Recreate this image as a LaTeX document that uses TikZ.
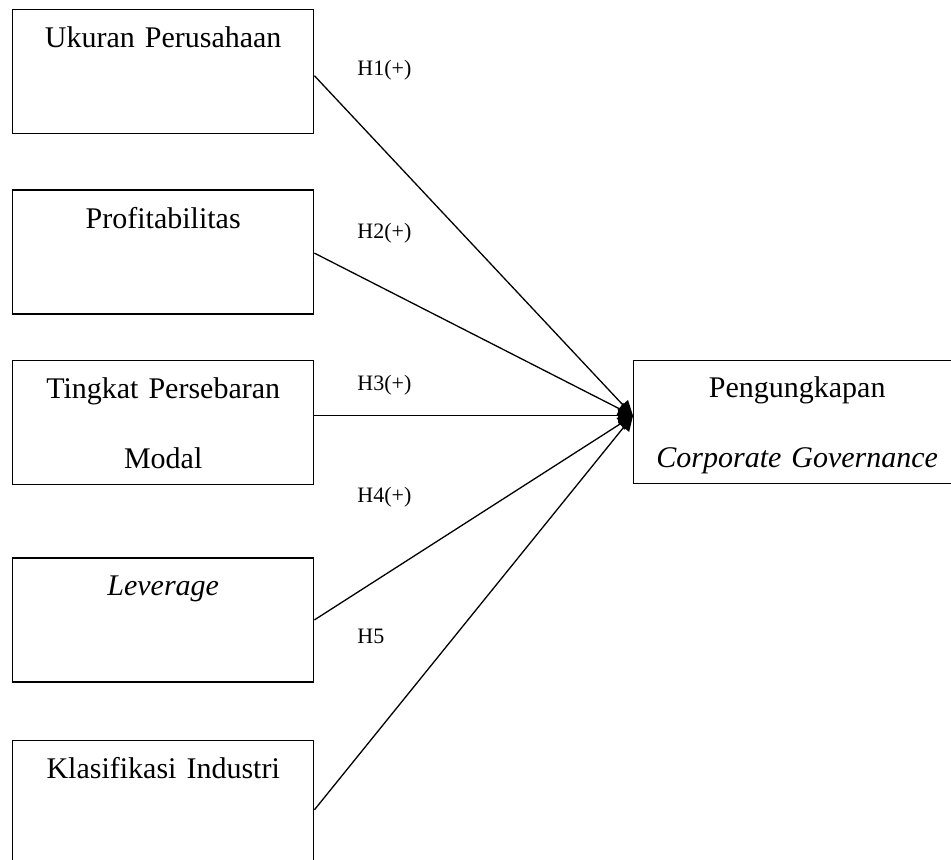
\documentclass[tikz,border=0pt]{standalone}
\usepackage{fontspec}
\setmainfont{Liberation Serif}
\usepackage{tikz}
\usetikzlibrary{positioning, arrows.meta}

\begin{document}
\begin{tikzpicture}[x=0.5pt, y=-0.5pt,
 varbox/.style={draw, line width=0.7pt, inner sep=0pt, text width=150.5pt, align=center,
   font=\fontsize{15}{35}\selectfont, text height=19pt, text depth=43pt},
 hyp/.style={anchor=base west, inner sep=0pt, font=\fontsize{11}{13}\selectfont},
 link/.style={line width=0.65pt, -{Triangle[length=7.5pt, width=7pt]}}]
\useasboundingbox (0,0) rectangle (951,859);

\node[varbox, anchor=north west] (b1) at (12,9) {Ukuran Perusahaan};
\node[varbox, below=27.5pt of b1] (b2) {Profitabilitas};
\node[varbox, below=22.5pt of b2] (b3) {Tingkat Persebaran\\Modal};
\node[varbox, below=36pt of b3] (b4) {\textit{Leverage}};
\node[varbox, below=28.5pt of b4] (b5) {Klasifikasi Industri};

\node[varbox, anchor=north west, text width=163.5pt, text height=18.5pt, text depth=43pt] (pg) at (633,360)
  {Pengungkapan\\\textit{Corporate Governance}};
\coordinate (tip) at ([yshift=3.25pt]pg.west);

\node[hyp] (h1) at (357,75) {H1(+)};
\node[hyp] (h2) at (357,238) {H2(+)};
\node[hyp] (h3) at (357,390) {H3(+)};
\node[hyp] (h4) at (357,502) {H4(+)};
\node[hyp] (h5) at (357,643) {H5};

\foreach \a/\y in {b1/-2pt,b2/-0.5pt,b4/0pt,b5/-3.75pt}
  {\draw[link] ([yshift=\y]\a.east) -- (tip);}
\draw[link] (b3.east |- tip) -- (tip);

\end{tikzpicture}
\end{document}
